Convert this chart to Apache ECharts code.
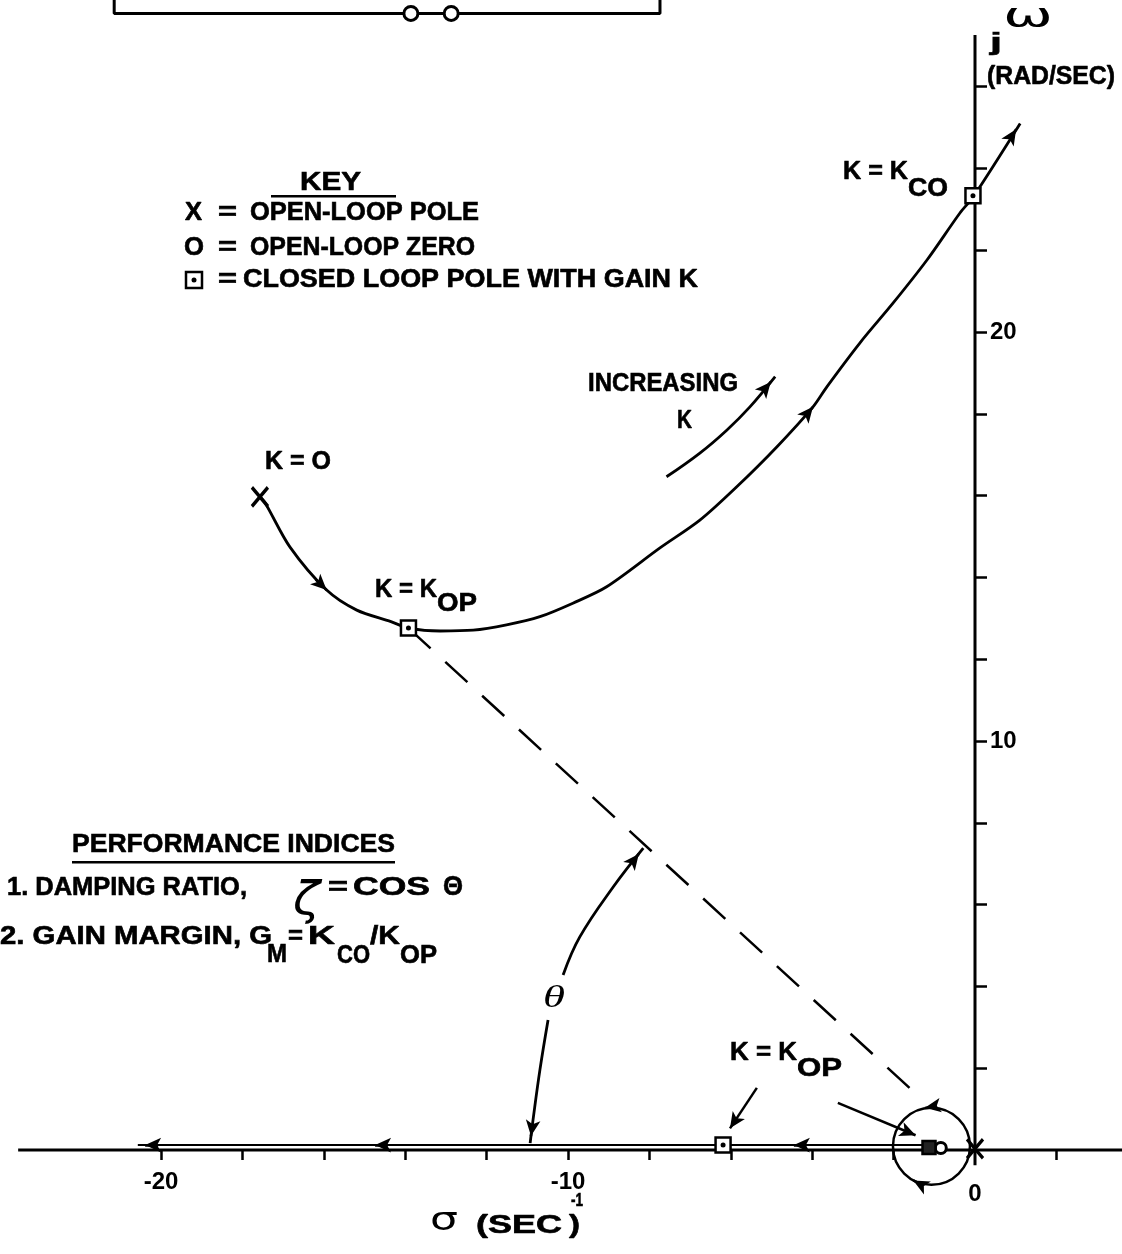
<!DOCTYPE html>
<html><head><meta charset="utf-8">
<script src="https://cdn.jsdelivr.net/npm/echarts@6/dist/echarts.min.js"></script>
<style>html,body{margin:0;padding:0;background:#fff;}#c{width:1122px;height:1254px;}</style>
</head><body><div id="c"></div>
<script>
// ---------------- data ----------------
const xTickValues = [-20,-18,-16,-14,-12,-10,-8,-6,-4,-2,2];
const xLabelValues = [-20,-10,0];
const yTickValues = [2,4,6,8,10,12,14,16,18,20,22,24,26];
const yLabelValues = [10,20];

// axes drawn as lines (sigma axis and j-omega axis)
const realAxisLine = [[-23.51,0],[3.62,0]];
const imagAxisLine = [[0,-0.37],[0,27.26]];

// complex root-locus branch: from open-loop pole, through K_OP, crossing at K_CO
const branchX = [-17.57,-17.44,-16.83,-15.93,-15.19,-14.35,-13.92,-13.14,-12.33,-11.51,-10.69,-9.88,-9.05,-7.74,-6.76,-5.86,-4.87,-3.98,-3.64,-2.83,-2.01,-1.18,-0.37,-0.04,1.11];
const branchY = [15.97,15.82,14.74,13.69,13.20,12.92,12.76,12.69,12.71,12.84,13.04,13.37,13.77,14.72,15.40,16.21,17.19,18.17,18.66,19.73,20.71,21.76,22.91,23.31,25.10];

// real-axis locus (drawn just above the axis)
const realLocus = [[-20.57,0.12],[-1.30,0.12]];

// damping ray from K_OP pole toward the origin
const dampingRay = [[-13.92,12.76],[-1.50,1.42]];

// theta arc (two pieces around the label)
const thetaArcUpper = [[-8.15,7.38],[-8.89,6.43],[-9.71,5.21],[-10.12,4.28]];
const thetaArcLower = [[-10.49,3.18],[-10.69,1.96],[-10.86,0.73],[-10.93,0.17]];

// "increasing K" indicator
const increasingK = [[-7.58,16.46],[-6.76,17.04],[-6.10,17.60],[-5.53,18.17],[-4.91,18.91]];

// poles, zeros, closed-loop poles
const openLoopPoles = [[-17.57,15.97],[0,0.03]];
const openLoopZeros = [[-0.84,0.05]];
const closedLoopPoles = [[-13.92,12.76],[-0.05,23.33],[-6.19,0.12]];
const closedLoopPoleNearOrigin = [[-1.13,0.06]];
const originLoopCenter = [[-1.07,0.09]];

// cut-off block diagram at the top
const topBoxLine = [[-21.15,28.6],[-21.15,27.79],[-7.74,27.79],[-7.74,28.6]];
const topBoxZeros = [[-13.86,27.79],[-12.87,27.79]];

// arrowheads: [tail, head]
const arrowSegments = [
  [[-16.20,13.95],[-15.93,13.69]],
  [[-4.17,17.94],[-3.98,18.17]],
  [[0.85,24.71],[1.01,24.96]],
  [[-5.21,18.55],[-5.02,18.78]],
  [[-8.44,7.01],[-8.26,7.24]],
  [[-10.87,0.63],[-10.91,0.34]],
  [[-20.07,0.12],[-20.39,0.12]],
  [[-14.44,0.12],[-14.74,0.12]],
  [[-4.15,0.12],[-4.45,0.12]],
  [[-0.94,1.08],[-1.23,1.03]],
  [[-1.30,-0.858],[-1.516,-0.743]]
];
const pointerSegments = [
  [[-3.37,1.15],[-1.46,0.36]],
  [[-5.36,1.52],[-6.02,0.53]]
];

// ---------------- layout ----------------
const W = 1122, H = 1254;
const ORIGIN_PX = [975, 1150];
const PX_PER_X = 40.7, PX_PER_Y = 40.9;
const xMin = -ORIGIN_PX[0] / PX_PER_X, xMax = (W - ORIGIN_PX[0]) / PX_PER_X;
const yMax = ORIGIN_PX[1] / PX_PER_Y, yMin = -(H - ORIGIN_PX[1]) / PX_PER_Y;

const FONT = 'Liberation Sans';
const meas = document.createElement('canvas').getContext('2d');
function txt(s, x0, x1, yc, size, o) {
  o = o || {};
  const family = o.family || FONT, weight = o.weight || 'bold', fstyle = o.fstyle || 'normal';
  meas.font = fstyle + ' ' + weight + ' ' + size + 'px ' + family;
  const w = meas.measureText(s).width;
  const sx = (x1 != null) ? (x1 - x0) / w : 1;
  return {
    type: 'text', x: x0, y: yc, scaleX: sx, silent: true, z: 100,
    style: { text: s, fill: '#000', stroke: weight === 'bold' ? '#000' : null, lineWidth: weight === 'bold' ? 0.6 : 0,
      fontSize: size, fontFamily: family, fontWeight: weight, fontStyle: fstyle,
      align: 'left', verticalAlign: 'middle', textAlign: 'left', textVerticalAlign: 'middle' }
  };
}
function rect(x, y, w, h, fill, stroke, lw) {
  return { type: 'rect', silent: true, z: 100, shape: { x: x, y: y, width: w, height: h },
    style: { fill: fill, stroke: stroke || null, lineWidth: lw || 0 } };
}

const graphics = [
  txt('KEY', 300, 361, 183, 25),
  rect(271, 195, 125, 2.5, '#000'),
  txt('X', 185, 202, 213, 25),
  txt('=', 218, 237, 213, 25),
  txt('OPEN-LOOP POLE', 250, 479, 213, 25),
  txt('O', 184, 204, 248, 25),
  txt('=', 218, 237, 248, 25),
  txt('OPEN-LOOP ZERO', 250, 475, 248, 25),
  rect(186, 272, 16, 16, '#fff', '#000', 2.5),
  { type: 'circle', silent: true, z: 101, shape: { cx: 194, cy: 280, r: 2.5 }, style: { fill: '#000' } },
  txt('=', 218, 237, 280, 25),
  txt('CLOSED LOOP POLE WITH GAIN K', 243, 698, 280, 25),

  txt('K = O', 265, 331, 462, 25),
  txt('K = K', 375, 437, 590, 25),
  txt('OP', 437, 477, 604, 25),
  txt('K = K', 843, 908, 172, 25),
  txt('CO', 908, 948, 189, 25),
  txt('INCREASING', 588, 738, 384, 25),
  txt('K', 677, 692, 421, 25),

  txt('j', 990, 1002, 43, 24),
  txt('ω', 1003, 1053, 18, 34, { family: 'DejaVu Sans', weight: 'normal' }),
  txt('(RAD/SEC)', 987, 1115, 77, 25),

  txt('θ', 543, 565, 999, 32, { family: 'Liberation Serif', weight: 'normal', fstyle: 'italic' }),
  txt('K = K', 730, 797, 1053, 25),
  txt('OP', 797, 842, 1069, 25),

  txt('PERFORMANCE INDICES', 72, 395, 845, 26),
  rect(72, 861, 323, 2.5, '#000'),
  txt('1. DAMPING RATIO,', 7, 247, 888, 25),
  txt('ζ', 293, 320, 902, 46, { family: 'DejaVu Sans', weight: 'normal', fstyle: 'oblique' }),
  txt('=', 328, 348, 888, 25),
  txt('COS', 353, 430, 888, 25),
  txt('Θ', 443, 463, 888, 27),
  txt('2. GAIN MARGIN, G', 0, 272, 937, 25),
  txt('M', 267, 287, 955, 25),
  txt('=', 288, 303, 937, 25),
  txt('K', 308, 335, 937, 25),
  txt('CO', 337, 370, 956, 25),
  txt('/K', 370, 400, 937, 25),
  txt('OP', 400, 437, 956, 25),

  txt('σ', 430, 458, 1222, 32, { family: 'DejaVu Sans', weight: 'normal' }),
  txt('(SEC', 476, 562, 1226, 25),
  txt('-1', 571, 583, 1201, 18),
  txt(')', 569, 580, 1226, 25)
];

const black = '#000';
function lineSeries(data, width, extra) {
  return Object.assign({
    type: 'line', data: data, symbol: 'none', silent: true, animation: false,
    lineStyle: { color: black, width: width }, z: 3
  }, extra || {});
}
const hollow = { color: '#fff', borderColor: black, borderWidth: 2.5, opacity: 1 };

const option = {
  animation: false,
  backgroundColor: '#fff',
  grid: { left: 0, right: 0, top: 0, bottom: 0, containLabel: false, outerBoundsMode: 'none' },
  xAxis: {
    type: 'value', min: xMin, max: xMax, position: 'bottom',
    offset: -(H - ORIGIN_PX[1]),
    axisLine: { show: false, onZero: false },
    splitLine: { show: false },
    axisTick: { show: true, customValues: xTickValues, length: 10, lineStyle: { color: black, width: 2.5 } },
    axisLabel: {
      customValues: xLabelValues, margin: 20, color: black, fontFamily: FONT, fontWeight: 'bold', fontSize: 24,
      formatter: function (v) { return v === 0 ? '{z|0}' : String(v); },
      rich: { z: { padding: [12, 0, 0, 0], color: black, fontFamily: FONT, fontWeight: 'bold', fontSize: 24 } }
    }
  },
  yAxis: {
    type: 'value', min: yMin, max: yMax, position: 'left',
    offset: -ORIGIN_PX[0],
    axisLine: { show: false, onZero: false },
    splitLine: { show: false },
    axisTick: { show: true, inside: true, customValues: yTickValues, length: 12, lineStyle: { color: black, width: 2.5 } },
    axisLabel: { customValues: yLabelValues, inside: true, margin: 15, color: black, fontFamily: FONT, fontWeight: 'bold', fontSize: 24 }
  },
  graphic: { elements: graphics },
  series: [
    lineSeries(realAxisLine, 3, {
      markLine: {
        silent: true, animation: false, symbol: ['none', 'arrow'], symbolSize: [11, 16],
        lineStyle: { color: black, width: 2.5, type: 'solid', opacity: 1 }, label: { show: false },
        itemStyle: { color: black, opacity: 1 },
        data: arrowSegments.concat(pointerSegments).map(function (s) { return [{ coord: s[0] }, { coord: s[1] }]; })
      }
    }),
    lineSeries(imagAxisLine, 3),
    lineSeries(branchX.map(function (x, i) { return [x, branchY[i]]; }), 2.8, { smooth: 0.3 }),
    lineSeries(realLocus, 2),
    lineSeries(dampingRay, 2.5, { lineStyle: { color: black, width: 2.5, type: [30, 20] } }),
    lineSeries(thetaArcUpper, 2.8, { smooth: 0.4 }),
    lineSeries(thetaArcLower, 2.8, { smooth: 0.4 }),
    lineSeries(increasingK, 2.8, { smooth: 0.4 }),
    lineSeries(topBoxLine, 3),
    { type: 'scatter', data: originLoopCenter, symbol: 'circle', symbolSize: 77, silent: true, z: 4,
      itemStyle: { color: 'rgba(0,0,0,0)', borderColor: black, borderWidth: 2.5, opacity: 1 } },
    { type: 'scatter', data: openLoopPoles, symbol: 'path://M0,0L10,12M10,0L0,12', symbolSize: [16, 19], silent: true, z: 6,
      itemStyle: { color: 'rgba(0,0,0,0)', borderColor: black, borderWidth: 3.5, opacity: 1 } },
    { type: 'scatter', data: openLoopZeros, symbol: 'circle', symbolSize: 11, silent: true, z: 6,
      itemStyle: { color: '#fff', borderColor: black, borderWidth: 3, opacity: 1 } },
    { type: 'scatter', data: closedLoopPoles, symbol: 'rect', symbolSize: 15, silent: true, z: 7, itemStyle: hollow },
    { type: 'scatter', data: closedLoopPoles, symbol: 'circle', symbolSize: 5, silent: true, z: 8, itemStyle: { color: black, opacity: 1 } },
    { type: 'scatter', data: closedLoopPoleNearOrigin, symbol: 'rect', symbolSize: 13, silent: true, z: 7,
      itemStyle: { color: '#222', borderColor: black, borderWidth: 2.5, opacity: 1 } },
    { type: 'scatter', data: topBoxZeros, symbol: 'circle', symbolSize: 14, silent: true, z: 7,
      itemStyle: { color: '#fff', borderColor: black, borderWidth: 3, opacity: 1 } }
  ]
};

const chart = echarts.init(document.getElementById('c'), null, { renderer: 'canvas' });
chart.setOption(option);
</script>
</body></html>
